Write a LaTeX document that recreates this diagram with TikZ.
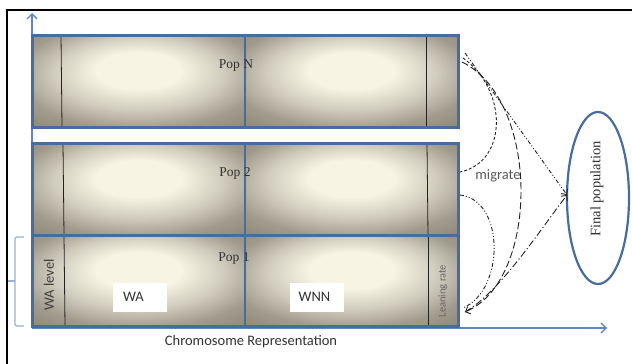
\documentclass[tikz,border=0pt]{standalone}
\usepackage{fontspec}
\setmainfont{Liberation Serif}
\newfontfamily\calfont{Carlito}
\usetikzlibrary{arrows.meta,shapes.geometric}
\definecolor{popdark}{RGB}{135,130,115}
\definecolor{popdarkb}{RGB}{160,155,140}
\definecolor{popmid}{RGB}{208,204,189}
\definecolor{poplight}{RGB}{247,244,228}
\definecolor{popblue}{RGB}{72,108,156}
\definecolor{axisblue}{RGB}{95,135,190}
\definecolor{bracecol}{RGB}{150,178,214}
\definecolor{linegray}{RGB}{35,35,35}
\definecolor{txtgray}{RGB}{50,50,50}
\pgfdeclareradialshading{popshade}{\pgfpoint{0bp}{7bp}}{color(0bp)=(poplight); color(10bp)=(poplight); color(20bp)=(popmid); color(29bp)=(popdarkb); color(40bp)=(popdark); color(50bp)=(popdark)}
\begin{document}
\begin{tikzpicture}[x=1pt,y=-1pt,
  popborder/.style={draw=popblue,line width=3pt},
  thinline/.style={draw=linegray,line width=0.8pt},
  axisline/.style={draw=axisblue,line width=1.3pt,-{Straight Barb[length=5pt,width=10pt]}},
  poplabel/.style={font=\fontsize{13.5}{15}\selectfont,text=txtgray,inner sep=0pt},
  callabel/.style={font=\calfont\fontsize{14.5}{16}\selectfont,text=txtgray,inner sep=0pt},
  whitebox/.style={fill=white,minimum width=54pt,minimum height=29pt,inner sep=0pt},
  conn/.style={draw=linegray,line width=0.9pt},
  arrowend/.style={-{Straight Barb[length=4pt,width=8pt]}},
  ddot/.style={dash pattern=on 4pt off 2pt on 1pt off 2pt on 1pt off 2pt},
  ldot/.style={dash pattern=on 7pt off 2.5pt on 1.2pt off 2.5pt},
  ldash/.style={dash pattern=on 7pt off 3pt},
  sdash/.style={dash pattern=on 3pt off 2pt}
]
\useasboundingbox (0,0) rectangle (632,364);
\fill[white] (0,0) rectangle (632,364);
% outer frame
\draw[black,line width=1.5pt] (7,364) -- (7,10) -- (632,10);
% population shading
\foreach \ya/\yb in {35/127,143/235,235/326}{
  \shade[shading=popshade] (32,\ya) rectangle (245,\yb);
  \shade[shading=popshade] (245,\ya) rectangle (458,\yb);
}
% thin black lines
\draw[thinline] (61,35) -- (62,127);
\draw[thinline] (63,143) -- (64,235);
\draw[thinline] (64,235) -- (65,326);
\draw[thinline] (426,35) -- (426,127);
\draw[thinline] (427,143) -- (428,235);
\draw[thinline] (428,235) -- (428,326);
% axes
\coordinate (origin) at (32,328);
\coordinate (ytip) at (32,13);
\coordinate (xtip) at (607,328);
\draw[axisline] (origin) -- (ytip);
\draw[axisline] (origin) -- (xtip);
% borders
\draw[popborder] (32,35) rectangle (458,127);
\draw[popborder] (32,143) rectangle (458,235);
\draw[popborder] (32,235) rectangle (458,326);
\draw[popblue,line width=2.4pt] (245,35) -- (245,127);
\draw[popblue,line width=2.4pt] (245,143) -- (245,326);
% brace
\draw[bracecol,line width=1.1pt,rounded corners=1.5pt] (24,237) -- (15,237) -- (15,326) -- (24,326);
\draw[bracecol,line width=1.1pt] (8,281) -- (15,281);
% white boxes
\node[whitebox] (wabox) at (140,297.5) {};
\node[whitebox] (wnnbox) at (317,297.5) {};
\node[callabel,anchor=west] (watxt) at (123,297) {WA};
\node[callabel] (wnntxt) at (314.5,297) {WNN};
% labels
\node[poplabel] (popNtxt) at (236,66) {Pop N};
\node[poplabel] (pop2txt) at (235,173) {Pop 2};
\node[poplabel] (pop1txt) at (234,258) {Pop 1};
\node[callabel,rotate=90,text=black!75] (walevel) at (49,285) {WA level};
\node[callabel,rotate=90,font=\calfont\fontsize{10.5}{12}\selectfont,text=black!60] (lrate) at (443,291) {Leaning rate};
\node[callabel,text=black!80] (chrom) at (251,342) {Chromosome Representation};
\node[callabel,text=black!65] (migr) at (498,176) {migrate};
% final population
\node[draw=popblue,line width=2.2pt,ellipse,minimum width=62pt,minimum height=172pt,inner sep=0pt] (final) at (598,198) {};
\node[poplabel,rotate=90,font=\fontsize{14.5}{16}\selectfont] (finaltxt) at (597,189) {Final population};
% connector end points
\coordinate (nA) at (465,53);
\coordinate (nB) at (463,58);
\coordinate (nC) at (462,62);
\coordinate (p2a) at (460,172);
\coordinate (p2b) at (460,195);
\coordinate (p1a) at (465,312);
\coordinate (p1b) at (463,308);
\coordinate (fin) at (567,195);
% connectors
\draw[conn,ddot,arrowend] (nA) -- (fin);
\draw[conn,sdash] (nB) .. controls (508,90) and (508,162) .. (p2a);
\draw[conn,ldash,arrowend] (nC) .. controls (540,100) and (540,280) .. (p1a);
\draw[conn,ddot] (p2b) .. controls (505,200) and (505,290) .. (p1b);
\draw[conn,ldot,arrowend] (p1a) .. controls (500,292) and (540,230) .. (fin);
\end{tikzpicture}
\end{document}
